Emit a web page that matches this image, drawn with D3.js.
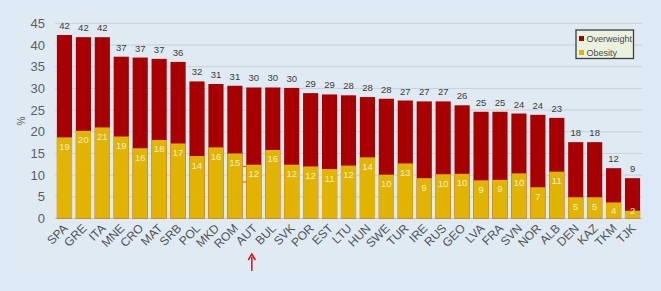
<!DOCTYPE html>
<html>
<head>
<meta charset="utf-8">
<script src="https://cdn.jsdelivr.net/npm/d3@7"></script>
<style>
  html, body { margin: 0; padding: 0; background: #dce9f6; }
  svg { display: block; font-family: "Liberation Sans", Arial, sans-serif; }
</style>
</head>
<body>
<svg id="chart" width="661" height="291"></svg>
<script>
const WIDTH = 661;
const HEIGHT = 291;

const countries = ['SPA', 'GRE', 'ITA', 'MNE', 'CRO', 'MAT', 'SRB', 'POL', 'MKD', 'ROM',
  'AUT', 'BUL', 'SVK', 'POR', 'EST', 'LTU', 'HUN', 'SWE', 'TUR', 'IRE', 'RUS', 'GEO',
  'LVA', 'FRA', 'SVN', 'NOR', 'ALB', 'DEN', 'KAZ', 'TKM', 'TJK'];
const overweight = [42.3, 41.8, 41.8, 37.3, 37.1, 36.8, 36.1, 31.6, 31.0, 30.6,
  30.2, 30.2, 30.1, 28.9, 28.6, 28.4, 28.0, 27.6, 27.2, 27.0, 27.0, 26.1,
  24.6, 24.6, 24.2, 23.9, 23.2, 17.6, 17.6, 11.6, 9.3];
const obesity = [18.7, 20.2, 21.0, 18.9, 16.2, 18.1, 17.3, 14.4, 16.4, 15.0,
  12.4, 15.8, 12.4, 12.0, 11.4, 12.2, 14.1, 10.1, 12.7, 9.3, 10.2, 10.3,
  8.8, 8.9, 10.4, 7.2, 10.8, 4.9, 4.9, 3.7, 1.8];
const yTicks = [0, 5, 10, 15, 20, 25, 30, 35, 40, 45];
const legendItems = ['Overweight', 'Obesity'];
const marked = 'AUT';

const RED = '#a80000';
const YELLOW = '#e0b400';

const rows = countries.map((c, i) => ({ country: c, overweight: overweight[i], obesity: obesity[i] }));

const svg = d3.select('#chart');

// inner panel
svg.append('rect')
  .attr('x', 18).attr('y', 8)
  .attr('width', 624).attr('height', 263)
  .attr('fill', '#e0eaf2');

const x = d3.scaleBand().domain(countries).range([55, 642]).paddingInner(0.2).paddingOuter(0.1);
const y = d3.scaleLinear().domain([0, 45]).range([218.5, 23.3]);

// grid
svg.append('g')
  .selectAll('line')
  .data(yTicks)
  .join('line')
  .attr('x1', 55).attr('x2', 642)
  .attr('y1', (d) => y(d)).attr('y2', (d) => y(d))
  .attr('stroke', (d) => (d === 0 ? '#b8c4ce' : '#c6d0d9'))
  .attr('stroke-width', 1);

// y labels
svg.append('g')
  .selectAll('text')
  .data(yTicks)
  .join('text')
  .attr('x', 45)
  .attr('y', (d) => y(d))
  .attr('dy', '0.36em')
  .attr('text-anchor', 'end')
  .attr('font-size', 13)
  .attr('fill', '#5a5f66')
  .text((d) => d);

svg.append('text')
  .attr('transform', 'translate(25,121) rotate(-90)')
  .attr('text-anchor', 'middle')
  .attr('font-size', 10)
  .attr('fill', '#5a5f66')
  .text('%');

const bars = svg.append('g').selectAll('g').data(rows).join('g');

// overweight (total)
bars.append('rect')
  .attr('x', (d) => x(d.country))
  .attr('width', x.bandwidth())
  .attr('y', (d) => y(d.overweight))
  .attr('height', (d) => y(0) - y(d.overweight))
  .attr('fill', RED);

// obesity part
bars.append('rect')
  .attr('x', (d) => x(d.country))
  .attr('width', x.bandwidth())
  .attr('y', (d) => y(d.obesity))
  .attr('height', (d) => y(0) - y(d.obesity))
  .attr('fill', YELLOW);

// value labels
bars.append('text')
  .attr('x', (d) => x(d.country) + x.bandwidth() / 2)
  .attr('y', (d) => y(d.overweight) - 6)
  .attr('text-anchor', 'middle')
  .attr('font-size', 9.5)
  .attr('fill', '#3c3c3c')
  .text((d) => Math.round(d.overweight));

bars.append('text')
  .attr('x', (d) => x(d.country) + x.bandwidth() / 2)
  .attr('y', (d) => Math.min(y(d.obesity) + 12.5, y(0) - 5))
  .attr('text-anchor', 'middle')
  .attr('font-size', 9.5)
  .attr('fill', '#f7efd0')
  .text((d) => Math.round(d.obesity));

// x labels
svg.append('g')
  .selectAll('text')
  .data(countries)
  .join('text')
  .attr('transform', (d) => `translate(${x(d) + x.bandwidth() / 2 + 4},${229}) rotate(-45)`)
  .attr('text-anchor', 'end')
  .attr('font-size', 12)
  .attr('fill', '#4f545a')
  .text((d) => d);

// red marks and arrow under the highlighted country
const mx = x(marked);
svg.append('g')
  .selectAll('line')
  .data([12, 8.4])
  .join('line')
  .attr('x1', mx - 3.5).attr('x2', mx)
  .attr('y1', (d) => y(d)).attr('y2', (d) => y(d))
  .attr('stroke', '#e8403c')
  .attr('stroke-width', 1);

const ax = mx + x.bandwidth() / 2 - 2;
svg.append('line')
  .attr('x1', ax).attr('x2', ax)
  .attr('y1', 257).attr('y2', 271)
  .attr('stroke', '#e01010')
  .attr('stroke-width', 1.5);
svg.append('path')
  .attr('d', `M${ax - 3.5},${260} L${ax},${254} L${ax + 3.5},${260}`)
  .attr('fill', 'none')
  .attr('stroke', '#e01010')
  .attr('stroke-width', 1.5);

// legend
const legend = svg.append('g').attr('transform', 'translate(576,30)');
legend.append('rect')
  .attr('width', 57.5).attr('height', 28.5)
  .attr('fill', '#eaf1dc')
  .attr('stroke', '#3a3d40')
  .attr('stroke-width', 1.3);
const items = legend.selectAll('g.item')
  .data(legendItems)
  .join('g')
  .attr('transform', (d, i) => `translate(3,${6 + i * 14})`);
items.append('rect')
  .attr('width', 5).attr('height', 5)
  .attr('fill', (d, i) => (i === 0 ? RED : YELLOW));
items.append('text')
  .attr('x', 7.5).attr('y', 5.5)
  .attr('font-size', 9)
  .attr('fill', '#474a4f')
  .text((d) => d);
</script>
</body>
</html>
